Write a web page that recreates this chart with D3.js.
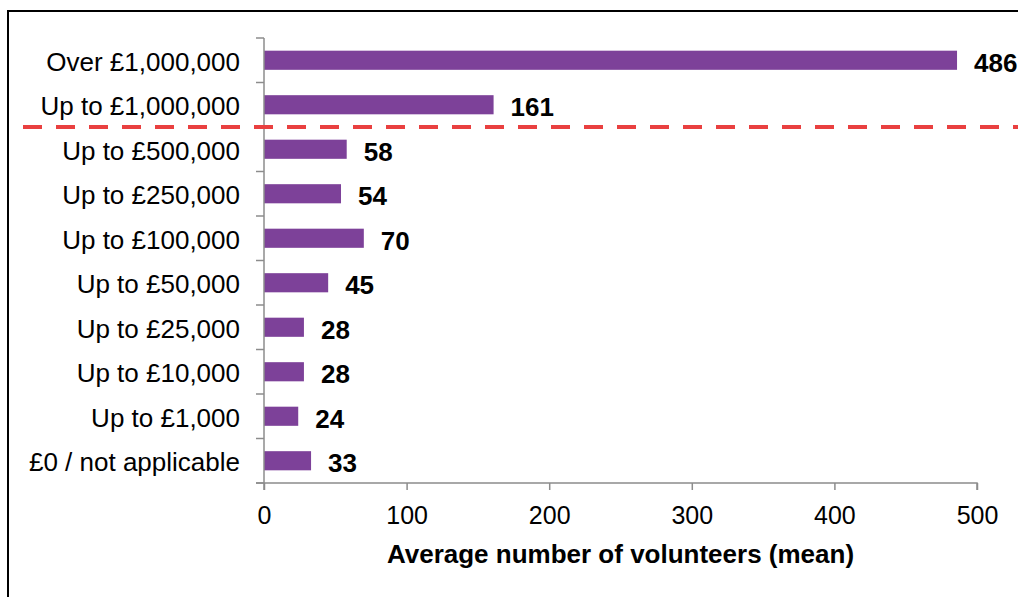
<!DOCTYPE html>
<meta charset="utf-8">
<style>
body { margin: 0; background: #fff; }
svg { display: block; font-family: "Liberation Sans", Arial, sans-serif; }
.axis path, .axis line { stroke: #8c8c8c; stroke-width: 1.5; }
.axis text { font-size: 25px; fill: #000; font-family: "Liberation Sans", Arial, sans-serif; }
</style>
<svg width="1018" height="597"></svg>
<script src="https://d3js.org/d3.v7.min.js"></script>
<script>

var categories = ["Over £1,000,000", "Up to £1,000,000", "Up to £500,000", "Up to £250,000",
                  "Up to £100,000", "Up to £50,000", "Up to £25,000", "Up to £10,000",
                  "Up to £1,000", "£0 / not applicable"];
var volunteers = [486, 161, 58, 54, 70, 45, 28, 28, 24, 33];
var xTicks = [0, 100, 200, 300, 400, 500];
var xTitle = "Average number of volunteers (mean)";
// dashed line sits between these two bands
var splitAfter = "Up to £1,000,000";

var svg = d3.select("svg");

// outer frame (runs off the right and bottom edges)
svg.append("rect")
    .attr("x", 8).attr("y", 11)
    .attr("width", 1040).attr("height", 620)
    .attr("fill", "none")
    .attr("stroke", "#000")
    .attr("stroke-width", 2);

var x = d3.scaleLinear()
    .domain([0, 500])
    .range([264, 977]);

var y = d3.scaleBand()
    .domain(categories)
    .range([38, 483])
    .paddingInner(0.57)
    .paddingOuter(0.285);

var data = categories.map(function(c, i) { return {cat: c, val: volunteers[i]}; });

// bars
svg.append("g")
  .selectAll("rect")
  .data(data)
  .enter().append("rect")
    .attr("x", x(0))
    .attr("y", function(d) { return y(d.cat); })
    .attr("width", function(d) { return x(d.val) - x(0); })
    .attr("height", y.bandwidth())
    .attr("fill", "#7d4199");

// x axis
var xAxis = svg.append("g")
    .attr("class", "axis")
    .attr("transform", "translate(0,483)")
    .call(d3.axisBottom(x).tickValues(xTicks).tickSize(7).tickSizeOuter(7).tickPadding(16));

// y axis: ticks on band boundaries
var yAxis = svg.append("g")
    .attr("class", "axis")
    .attr("transform", "translate(264,0)");
yAxis.append("line")
    .attr("x1", 0).attr("x2", 0)
    .attr("y1", 38).attr("y2", 490);
var step = y.step();
var bounds = d3.range(categories.length + 1).map(function(i) { return 38 + i * step; });
yAxis.selectAll("line.tick")
  .data(bounds)
  .enter().append("line")
    .attr("class", "tick")
    .attr("x1", -8).attr("x2", 0)
    .attr("y1", function(d) { return d; })
    .attr("y2", function(d) { return d; });
xAxis.select(".domain").attr("d", "M256,0H977V7");

// category labels
svg.append("g")
  .selectAll("text")
  .data(data)
  .enter().append("text")
    .attr("x", 240)
    .attr("y", function(d) { return y(d.cat) + y.bandwidth() / 2 + 1; })
    .attr("dy", "0.36em")
    .attr("text-anchor", "end")
    .attr("font-size", 26)
    .text(function(d) { return d.cat; });

// value labels
svg.append("g")
  .selectAll("text")
  .data(data)
  .enter().append("text")
    .attr("x", function(d) { return x(d.val) + 17; })
    .attr("y", function(d) { return y(d.cat) + y.bandwidth() / 2 + 2; })
    .attr("dy", "0.36em")
    .attr("font-size", 26)
    .attr("font-weight", "bold")
    .text(function(d) { return d.val; });

// x axis title
svg.append("text")
    .attr("x", (x(0) + x(500)) / 2)
    .attr("y", 563)
    .attr("text-anchor", "middle")
    .attr("font-size", 26)
    .attr("font-weight", "bold")
    .text(xTitle);

// red dashed divider
var splitY = y(splitAfter) + y.bandwidth() + y.step() * y.paddingInner() / 2;
svg.append("line")
    .attr("x1", 23).attr("x2", 1030)
    .attr("y1", splitY).attr("y2", splitY)
    .attr("stroke", "#e94040")
    .attr("stroke-width", 4)
    .attr("stroke-dasharray", "19,14");

</script>
